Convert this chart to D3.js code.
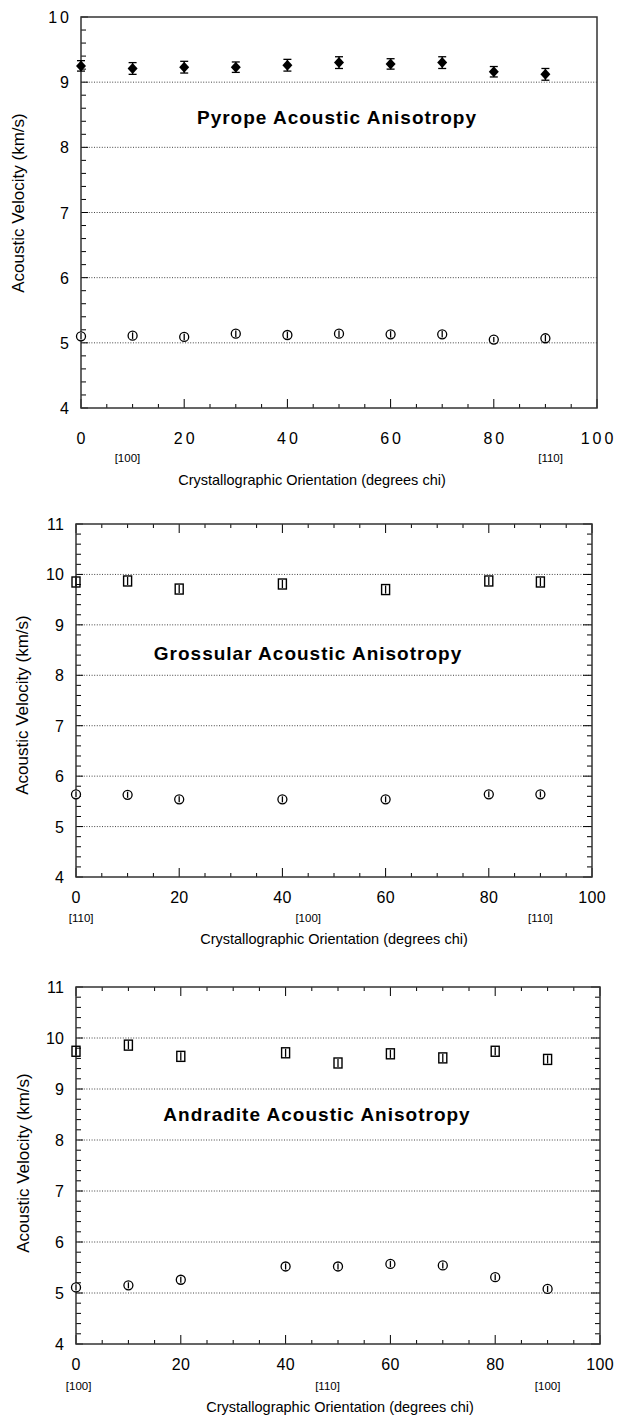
<!DOCTYPE html>
<html>
<head>
<meta charset="utf-8">
<script src="https://cdn.jsdelivr.net/npm/d3@7"></script>
<style>
  body { margin: 0; background: #fff; }
  svg { display: block; font-family: "Liberation Sans", Arial, sans-serif; }
</style>
</head>
<body>
<div id="chart"></div>
<script>
// ---- data ----
const xTicks = [0, 20, 40, 60, 80, 100];

// Pyrope
const pyropeAngles = [0, 10, 20, 30, 40, 50, 60, 70, 80, 90];
const pyropeFast    = [9.25, 9.21, 9.23, 9.23, 9.26, 9.30, 9.28, 9.30, 9.16, 9.12];
const pyropeFastErr = [0.08, 0.09, 0.09, 0.08, 0.09, 0.09, 0.08, 0.09, 0.08, 0.09];
const pyropeSlow    = [5.10, 5.11, 5.09, 5.14, 5.12, 5.14, 5.13, 5.13, 5.05, 5.07];
const pyropeSlowErr = [0.05, 0.05, 0.05, 0.05, 0.05, 0.05, 0.05, 0.05, 0.04, 0.05];
const pyropeYTicks = [4, 5, 6, 7, 8, 9, 10];
const pyropeDirPos = [9, 91];
const pyropeDirLabels = ["[100]", "[110]"];

// Grossular
const grossularAngles = [0, 10, 20, 40, 60, 80, 90];
const grossularFast    = [9.85, 9.87, 9.71, 9.81, 9.70, 9.87, 9.85];
const grossularFastErr = [0.08, 0.08, 0.08, 0.08, 0.08, 0.08, 0.08];
const grossularSlow    = [5.64, 5.63, 5.54, 5.54, 5.54, 5.64, 5.64];
const grossularSlowErr = [0.06, 0.06, 0.06, 0.06, 0.06, 0.06, 0.06];
const grossularYTicks = [4, 5, 6, 7, 8, 9, 10, 11];
const grossularDirPos = [1, 45, 90];
const grossularDirLabels = ["[110]", "[100]", "[110]"];

// Andradite
const andraditeAngles = [0, 10, 20, 40, 50, 60, 70, 80, 90];
const andraditeFast    = [9.74, 9.86, 9.64, 9.71, 9.51, 9.69, 9.61, 9.74, 9.58];
const andraditeFastErr = [0.08, 0.08, 0.08, 0.08, 0.08, 0.08, 0.08, 0.08, 0.08];
const andraditeSlow    = [5.11, 5.15, 5.26, 5.52, 5.52, 5.57, 5.54, 5.31, 5.08];
const andraditeSlowErr = [0.06, 0.06, 0.06, 0.06, 0.06, 0.06, 0.06, 0.06, 0.06];
const andraditeYTicks = [4, 5, 6, 7, 8, 9, 10, 11];
const andraditeDirPos = [0.5, 48, 90];
const andraditeDirLabels = ["[100]", "[110]", "[100]"];

// ---- layout ----
const W = 618, H = 1418;
const svg = d3.select("#chart").append("svg")
  .attr("width", W).attr("height", H);

const panels = [
  { left: 81, right: 597, top: 17, bottom: 408, ticks: pyropeYTicks,
    title: "Pyrope Acoustic Anisotropy", titleX: 337, titleY: 124,
    angles: pyropeAngles, fast: pyropeFast, fastErr: pyropeFastErr,
    slow: pyropeSlow, slowErr: pyropeSlowErr, fastShape: "diamond",
    dirPos: pyropeDirPos, dirLabels: pyropeDirLabels,
    tickFont: 16, spacing: 3, frameTicks: false,
    xLabelDy: 36, dirDy: 54, xTitleDy: 77, xTitleX: 312,
    yTitleX: 24, yTitleY: 203 },
  { left: 76, right: 592, top: 524, bottom: 877, ticks: grossularYTicks,
    title: "Grossular Acoustic Anisotropy", titleX: 308, titleY: 660,
    angles: grossularAngles, fast: grossularFast, fastErr: grossularFastErr,
    slow: grossularSlow, slowErr: grossularSlowErr, fastShape: "square",
    dirPos: grossularDirPos, dirLabels: grossularDirLabels,
    tickFont: 16, spacing: 0.3, frameTicks: true,
    xLabelDy: 26, dirDy: 45, xTitleDy: 67, xTitleX: 334,
    yTitleX: 28, yTitleY: 705 },
  { left: 76, right: 600, top: 987, bottom: 1344, ticks: andraditeYTicks,
    title: "Andradite Acoustic Anisotropy", titleX: 317, titleY: 1121,
    angles: andraditeAngles, fast: andraditeFast, fastErr: andraditeFastErr,
    slow: andraditeSlow, slowErr: andraditeSlowErr, fastShape: "square",
    dirPos: andraditeDirPos, dirLabels: andraditeDirLabels,
    tickFont: 16, spacing: 0.3, frameTicks: true,
    xLabelDy: 26, dirDy: 46, xTitleDy: 68, xTitleX: 340,
    yTitleX: 29, yTitleY: 1163 }
];

panels.forEach(drawPanel);

function drawPanel(p) {
  const x = d3.scaleLinear().domain([0, 100]).range([p.left, p.right]);
  const yMin = d3.min(p.ticks), yMax = d3.max(p.ticks);
  const y = d3.scaleLinear().domain([yMin, yMax]).range([p.bottom, p.top]);
  const g = svg.append("g");

  // dotted grid lines at the inner integer values
  g.selectAll(".grid").data(p.ticks.filter(t => t > yMin && t < yMax))
    .enter().append("line")
    .attr("x1", p.left).attr("x2", p.right)
    .attr("y1", d => y(d)).attr("y2", d => y(d))
    .attr("stroke", "#444").attr("stroke-width", 1)
    .attr("stroke-dasharray", "1,1.6");

  // minor / major ticks
  const xMinor = d3.range(0, 101, 5);
  const yMinor = d3.range(yMin, yMax + 0.001, 0.2);
  const isInt = d => Math.abs(d - Math.round(d)) < 0.01;
  g.append("g").selectAll("line").data(xMinor).enter().append("line")
    .attr("x1", d => x(d)).attr("x2", d => x(d))
    .attr("y1", p.bottom).attr("y2", d => p.bottom - (d % 20 === 0 ? 9 : 4))
    .attr("stroke", "#000").attr("stroke-width", 1);
  g.append("g").selectAll("line").data(yMinor).enter().append("line")
    .attr("y1", d => y(d)).attr("y2", d => y(d))
    .attr("x1", p.left).attr("x2", d => p.left + (isInt(d) ? 7 : 5))
    .attr("stroke", "#000").attr("stroke-width", 1);
  if (p.frameTicks) {
    g.append("g").selectAll("line").data(xMinor).enter().append("line")
      .attr("x1", d => x(d)).attr("x2", d => x(d))
      .attr("y1", p.top).attr("y2", d => p.top + (d % 20 === 0 ? 9 : 4))
      .attr("stroke", "#000").attr("stroke-width", 1);
    g.append("g").selectAll("line").data(yMinor).enter().append("line")
      .attr("y1", d => y(d)).attr("y2", d => y(d))
      .attr("x1", p.right).attr("x2", d => p.right - (isInt(d) ? 9 : 5))
      .attr("stroke", "#000").attr("stroke-width", 1);
  }

  // frame
  g.append("rect")
    .attr("x", p.left).attr("y", p.top)
    .attr("width", p.right - p.left).attr("height", p.bottom - p.top)
    .attr("fill", "none").attr("stroke", "#333").attr("stroke-width", 1.5);

  // tick labels
  g.selectAll(".xl").data(xTicks).enter().append("text")
    .attr("x", d => x(d) + p.spacing / 2).attr("y", p.bottom + p.xLabelDy)
    .attr("text-anchor", "middle")
    .attr("font-size", p.tickFont).attr("letter-spacing", p.spacing)
    .text(d => d);
  g.selectAll(".yl").data(p.ticks).enter().append("text")
    .attr("x", p.left - 12 + p.spacing).attr("y", d => y(d) + 6)
    .attr("text-anchor", "end")
    .attr("font-size", p.tickFont).attr("letter-spacing", p.spacing)
    .text(d => d);

  // crystallographic direction labels
  g.selectAll(".dir").data(p.dirPos).enter().append("text")
    .attr("x", d => x(d)).attr("y", p.bottom + p.dirDy)
    .attr("text-anchor", "middle").attr("font-size", 11.5)
    .text((d, i) => p.dirLabels[i]);

  // axis titles
  g.append("text")
    .attr("x", p.xTitleX).attr("y", p.bottom + p.xTitleDy)
    .attr("text-anchor", "middle").attr("font-size", 14.5)
    .text("Crystallographic Orientation (degrees chi)");
  g.append("text")
    .attr("transform", `translate(${p.yTitleX},${p.yTitleY}) rotate(-90)`)
    .attr("text-anchor", "middle").attr("font-size", 17)
    .text("Acoustic Velocity (km/s)");

  // panel title
  g.append("text")
    .attr("x", p.titleX).attr("y", p.titleY)
    .attr("text-anchor", "middle").attr("font-size", 19)
    .attr("font-weight", "bold").attr("letter-spacing", 1)
    .text(p.title);

  // fast (upper) series with error bars
  const fast = p.angles.map((a, i) => ({ a, v: p.fast[i], e: p.fastErr[i] }));
  const fg = g.selectAll(".fast").data(fast).enter().append("g");
  fg.append("line")
    .attr("x1", d => x(d.a)).attr("x2", d => x(d.a))
    .attr("y1", d => y(d.v + d.e)).attr("y2", d => y(d.v - d.e))
    .attr("stroke", "#000").attr("stroke-width", 1.3);
  if (p.fastShape === "diamond") {
    [1, -1].forEach(s => {
      fg.append("line").attr("x1", d => x(d.a) - 4).attr("x2", d => x(d.a) + 4)
        .attr("y1", d => y(d.v + s * d.e)).attr("y2", d => y(d.v + s * d.e))
        .attr("stroke", "#000").attr("stroke-width", 1.3);
    });
    fg.append("path")
      .attr("transform", d => `translate(${x(d.a)},${y(d.v)})`)
      .attr("d", "M0,-5.5L5,0L0,5.5L-5,0Z")
      .attr("fill", "#000");
  } else {
    fg.append("rect")
      .attr("x", d => x(d.a) - 4).attr("y", d => y(d.v) - 5)
      .attr("width", 8).attr("height", 10)
      .attr("fill", "none").attr("stroke", "#000").attr("stroke-width", 1.4);
  }

  // slow (lower) series: open circles with vertical error bar
  const slow = p.angles.map((a, i) => ({ a, v: p.slow[i], e: p.slowErr[i] }));
  const sg = g.selectAll(".slow").data(slow).enter().append("g");
  sg.append("circle")
    .attr("cx", d => x(d.a)).attr("cy", d => y(d.v)).attr("r", 4.5)
    .attr("fill", "#fff").attr("stroke", "#000").attr("stroke-width", 1.3);
  sg.append("line")
    .attr("x1", d => x(d.a)).attr("x2", d => x(d.a))
    .attr("y1", d => y(d.v + d.e)).attr("y2", d => y(d.v - d.e))
    .attr("stroke", "#000").attr("stroke-width", 1.3);
}
</script>
</body>
</html>
